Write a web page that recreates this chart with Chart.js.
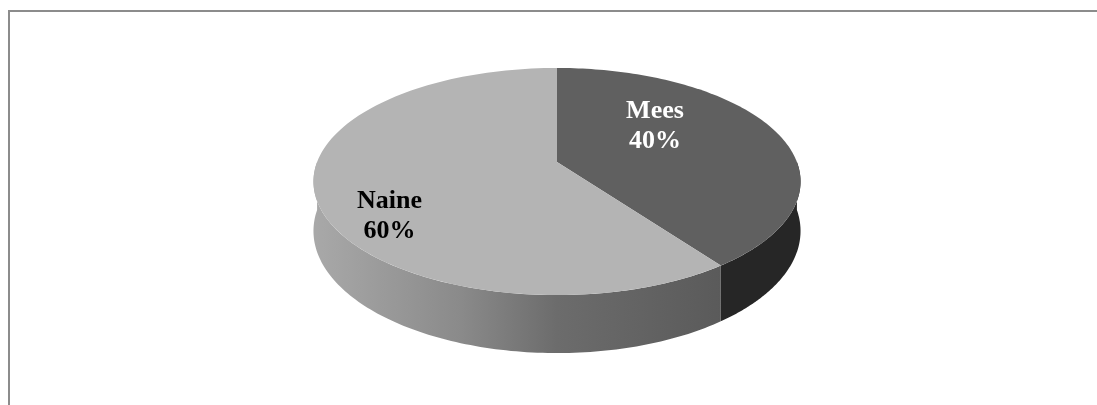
<!DOCTYPE html>
<html lang="et">
<head>
<meta charset="utf-8">
<title>Mees / Naine</title>
<script src="https://cdn.jsdelivr.net/npm/chart.js@4.4.1/dist/chart.umd.min.js"></script>
<style>
  html, body { margin: 0; padding: 0; background: #fff; }
  #wrap { width: 1097px; height: 405px; position: relative; }
</style>
</head>
<body>
<div id="wrap"><canvas id="pie"></canvas></div>
<script>
// andmed
const sugu = ["Mees", "Naine"];
const osakaal = [40, 60];

// "kaamera": ring -> perspektiiviga ellips (kordajad raadiuse suhtes)
const KX = 2.181, KY = 1.002, PERSP = 0.172, SYVUS = 48;
const SAMMUD = 120;

// punkt ketta tasandil (u paremale, w ettepoole) -> ekraan
function proj(arc, u, w, alla) {
  const s = 1 / (1 - PERSP * w);
  return [
    arc.x + arc.outerRadius * KX * u * s,
    arc.y + arc.outerRadius * KY * w * s + (alla ? SYVUS * s : 0)
  ];
}

function kaar(ctx, arc, a0, a1, alla, esimene) {
  for (let j = 0; j <= SAMMUD; j++) {
    const t = a0 + (a1 - a0) * j / SAMMUD;
    const p = proj(arc, Math.cos(t), Math.sin(t), alla);
    if (esimene && j === 0) ctx.moveTo(p[0], p[1]);
    else ctx.lineTo(p[0], p[1]);
  }
}

// hall raam vasakul ja üleval
const raam = {
  id: "raam",
  beforeDraw(chart) {
    const ctx = chart.ctx;
    ctx.save();
    ctx.strokeStyle = "#8c8c8c";
    ctx.lineWidth = 2;
    ctx.beginPath();
    ctx.moveTo(9, chart.height);
    ctx.lineTo(9, 11);
    ctx.lineTo(chart.width, 11);
    ctx.stroke();
    ctx.restore();
  }
};

// 3D pirukas: esmalt küljed, siis pealispind
const kolmD = {
  id: "kolmD",
  beforeDatasetsDraw(chart) {
    const ctx = chart.ctx;
    const kaared = chart.getDatasetMeta(0).data;
    ctx.save();

    kaared.forEach((arc, i) => {
      const a0 = Math.max(arc.startAngle, 0);
      const a1 = Math.min(arc.endAngle, Math.PI);
      if (a1 <= a0) return;
      ctx.beginPath();
      kaar(ctx, arc, a0, a1, false, true);
      kaar(ctx, arc, a1, a0, true, false);
      ctx.closePath();
      if (i === 0) {
        ctx.fillStyle = "#262626";
      } else {
        const vasak = proj(arc, -1, 0, false)[0];
        const parem = proj(arc, 1, 0, false)[0];
        const g = ctx.createLinearGradient(vasak, 0, parem, 0);
        g.addColorStop(0, "#a8a8a8");
        g.addColorStop(0.3, "#8a8a8a");
        g.addColorStop(0.5, "#6c6c6c");
        g.addColorStop(0.85, "#5a5a5a");
        g.addColorStop(1, "#505050");
        ctx.fillStyle = g;
      }
      ctx.fill();
    });

    kaared.forEach((arc) => {
      const c = proj(arc, 0, 0, false);
      ctx.beginPath();
      ctx.moveTo(c[0], c[1]);
      kaar(ctx, arc, arc.startAngle, arc.endAngle, false, false);
      ctx.closePath();
      ctx.fillStyle = arc.options.backgroundColor;
      ctx.fill();
    });

    ctx.restore();
    return false; // lapik vaade on juba joonistatud
  }
};

// sildid lõikude peal
const sildid = {
  id: "sildid",
  afterDraw(chart, args, opts) {
    const ctx = chart.ctx;
    const kokku = osakaal.reduce((a, b) => a + b, 0);
    ctx.save();
    ctx.font = "bold 26px 'Liberation Serif', 'Times New Roman', serif";
    ctx.textAlign = "center";
    ctx.textBaseline = "alphabetic";
    chart.getDatasetMeta(0).data.forEach((arc, i) => {
      const [u, w] = opts.koht[i];
      const p = proj(arc, u, w, false);
      ctx.fillStyle = opts.varv[i];
      ctx.fillText(sugu[i], p[0], p[1] - 6);
      ctx.fillText(Math.round(osakaal[i] / kokku * 100) + "%", p[0], p[1] + 24);
    });
    ctx.restore();
  }
};

new Chart(document.getElementById("pie"), {
  type: "pie",
  data: {
    labels: sugu,
    datasets: [{
      data: osakaal,
      backgroundColor: ["#606060", "#b4b4b4"],
      borderWidth: 0,
      hoverOffset: 0
    }]
  },
  options: {
    responsive: true,
    maintainAspectRatio: false,
    animation: false,
    events: [],
    layout: { padding: { top: 52, bottom: 133, left: 447, right: 430 } },
    plugins: {
      legend: { display: false },
      tooltip: { enabled: false },
      sildid: {
        koht: [[0.434, -0.366], [-0.646, 0.437]],
        varv: ["#ffffff", "#000000"]
      }
    }
  },
  plugins: [raam, kolmD, sildid]
});
</script>
</body>
</html>
